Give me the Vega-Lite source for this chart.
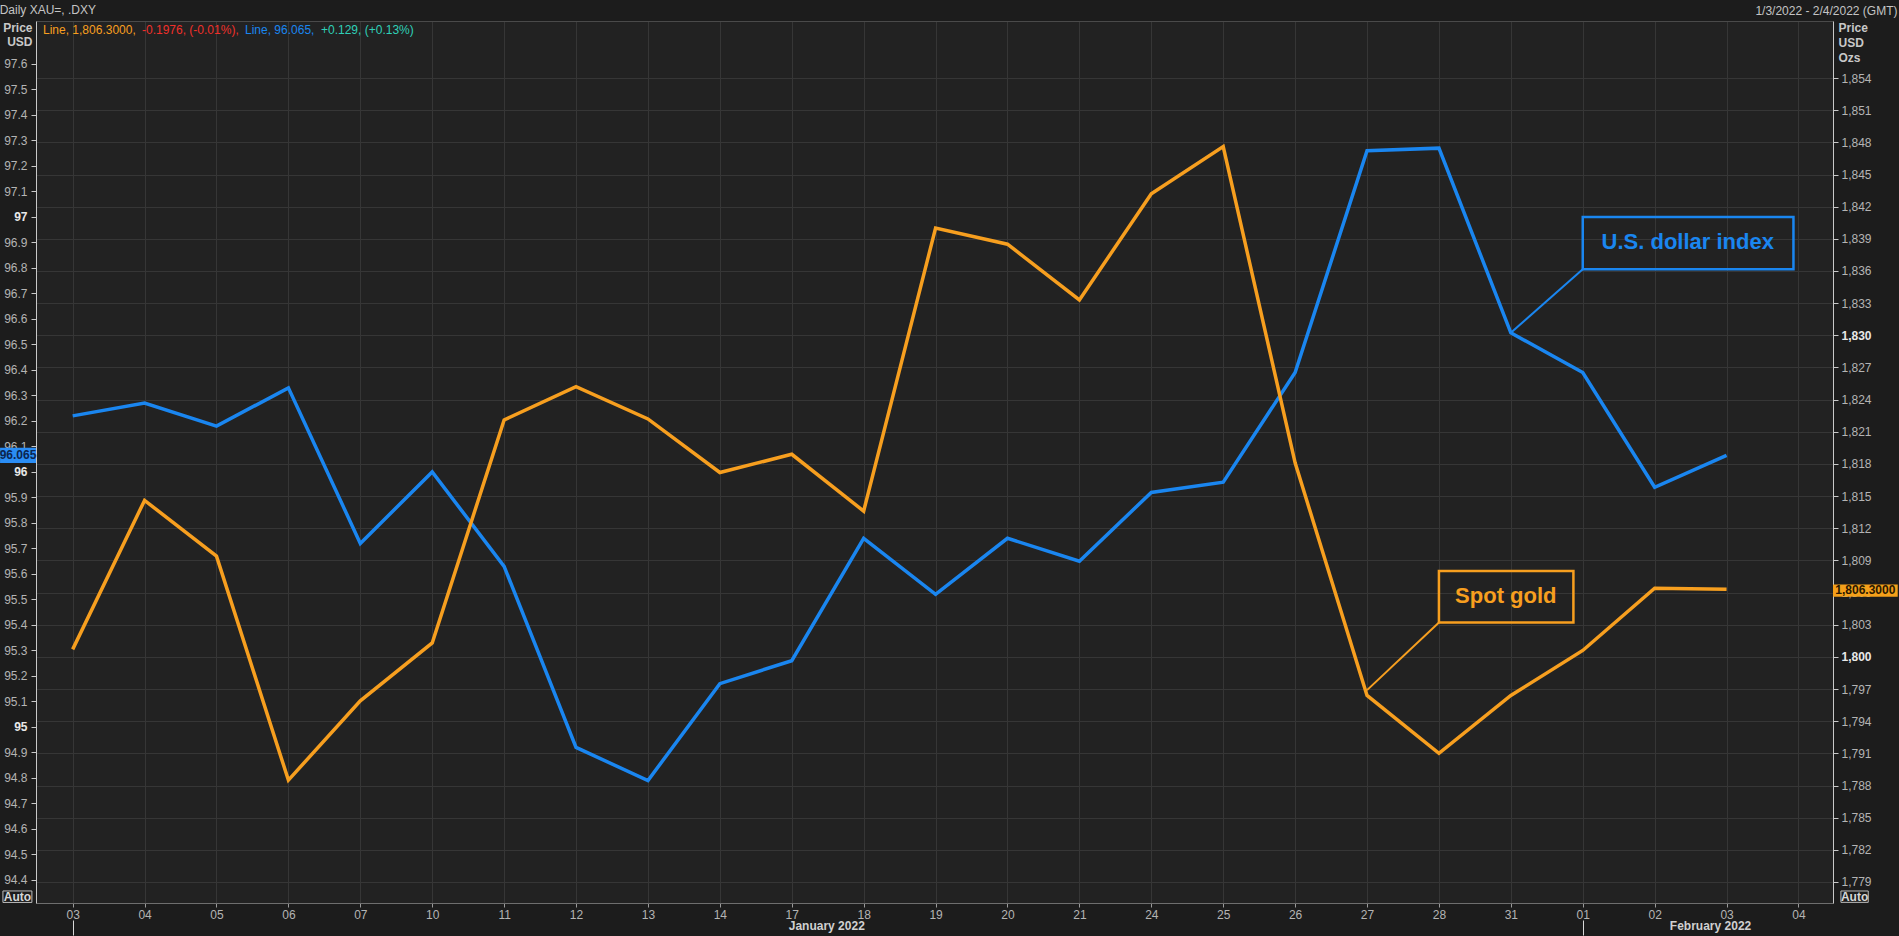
{
  "$schema": "https://vega.github.io/schema/vega-lite/v6.json",
  "width": 1797,
  "height": 882,
  "autosize": {"type": "none"},
  "padding": {"left": 36, "top": 21, "right": 66, "bottom": 33},
  "background": "#1c1c1c",
  "title": {
    "text": "Daily XAU=, .DXY",
    "anchor": "start",
    "frame": "bounds",
    "fontSize": 12,
    "fontWeight": "normal",
    "color": "#c4c4c4",
    "offset": -13
  },
  "config": {
    "font": "Liberation Sans",
    "view": {"stroke": null, "fill": "#222222"}
  },
  "datasets": {
    "prices": [
      {"i": 0, "date": "2022-01-03", "dxy": 96.22, "gold": 1800.7},
      {"i": 1, "date": "2022-01-04", "dxy": 96.27, "gold": 1814.6},
      {"i": 2, "date": "2022-01-05", "dxy": 96.18, "gold": 1809.4},
      {"i": 3, "date": "2022-01-06", "dxy": 96.33, "gold": 1788.5},
      {"i": 4, "date": "2022-01-07", "dxy": 95.72, "gold": 1795.9},
      {"i": 5, "date": "2022-01-10", "dxy": 96.0, "gold": 1801.3},
      {"i": 6, "date": "2022-01-11", "dxy": 95.63, "gold": 1822.1},
      {"i": 7, "date": "2022-01-12", "dxy": 94.92, "gold": 1825.2},
      {"i": 8, "date": "2022-01-13", "dxy": 94.79, "gold": 1822.2},
      {"i": 9, "date": "2022-01-14", "dxy": 95.17, "gold": 1817.2},
      {"i": 10, "date": "2022-01-17", "dxy": 95.26, "gold": 1818.9},
      {"i": 11, "date": "2022-01-18", "dxy": 95.74, "gold": 1813.6},
      {"i": 12, "date": "2022-01-19", "dxy": 95.52, "gold": 1840.0},
      {"i": 13, "date": "2022-01-20", "dxy": 95.74, "gold": 1838.5},
      {"i": 14, "date": "2022-01-21", "dxy": 95.65, "gold": 1833.3},
      {"i": 15, "date": "2022-01-24", "dxy": 95.92, "gold": 1843.2},
      {"i": 16, "date": "2022-01-25", "dxy": 95.96, "gold": 1847.6},
      {"i": 17, "date": "2022-01-26", "dxy": 96.39, "gold": 1818.1},
      {"i": 18, "date": "2022-01-27", "dxy": 97.26, "gold": 1796.4},
      {"i": 19, "date": "2022-01-28", "dxy": 97.27, "gold": 1791.0},
      {"i": 20, "date": "2022-01-31", "dxy": 96.546, "gold": 1796.4},
      {"i": 21, "date": "2022-02-01", "dxy": 96.39, "gold": 1800.6},
      {"i": 22, "date": "2022-02-02", "dxy": 95.94, "gold": 1806.4},
      {"i": 23, "date": "2022-02-03", "dxy": 96.065, "gold": 1806.3}
    ],
    "dxyNotes": [
      {"kind": "box", "i": 21, "i2": 23.93, "v": 97.0, "v2": 96.795},
      {"kind": "leader", "i": 20, "i2": 21, "v": 96.546, "v2": 96.795},
      {"kind": "label", "i": 22.46, "v": 96.875, "text": "U.S. dollar index"},
      {"kind": "tag", "i": -1.01, "i2": -0.51, "v": 96.095, "v2": 96.035},
      {"kind": "tagText", "i": -0.76, "v": 96.065, "text": "96.065"},
      {"kind": "auto", "i": -0.97, "i2": -0.567, "v": 94.357, "v2": 94.312},
      {"kind": "autoText", "i": -0.768, "v": 94.334, "text": "Auto"}
    ],
    "goldNotes": [
      {"kind": "box", "i": 19, "i2": 20.87, "v": 1808.0, "v2": 1803.2},
      {"kind": "leader", "i": 18, "i2": 19, "v": 1796.9, "v2": 1803.2},
      {"kind": "label", "i": 19.93, "v": 1805.0, "text": "Spot gold"},
      {"kind": "tag", "i": 24.48, "i2": 25.38, "v": 1806.75, "v2": 1805.6},
      {"kind": "tagText", "i": 24.93, "v": 1806.2, "text": "1,806.3000"},
      {"kind": "auto", "i": 24.59, "i2": 24.97, "v": 1778.16, "v2": 1777.1},
      {"kind": "autoText", "i": 24.78, "v": 1777.63, "text": "Auto"}
    ]
  },
  "resolve": {"scale": {"y": "independent"}, "axis": {"x": "independent"}},
  "layer": [
    {
      "layer": [
        {
          "data": {"name": "prices"},
          "mark": {"type": "line", "strokeWidth": 3.5},
          "encoding": {
            "x": {
              "field": "i", "type": "quantitative",
              "scale": {"domain": [-0.51, 24.48], "nice": false, "zero": false},
              "axis": {
                "orient": "bottom",
                "values": [0,1,2,3,4,5,6,7,8,9,10,11,12,13,14,15,16,17,18,19,20,21,22,23,24],
                "tickCount": 100,
                "labelExpr": "['03','04','05','06','07','10','11','12','13','14','17','18','19','20','21','24','25','26','27','28','31','01','02','03','04'][datum.value]",
                "title": null,
                "grid": true, "gridColor": "#363636", "gridWidth": 1,
                "domainColor": "#6e6e6e",
                "tickColor": "#9a9a9a", "tickSize": 4,
                "labelPadding": 2, "labelBaseline": "top",
                "labelColor": "#b4b4b4", "labelFontSize": 12,
                "labelOverlap": false, "labelFlush": false
              }
            },
            "y": {
              "field": "dxy", "type": "quantitative",
              "scale": {"domain": [94.3098, 97.7686], "nice": false, "zero": false},
              "axis": {
                "orient": "left",
                "values": [94.4,94.5,94.6,94.7,94.8,94.9,95,95.1,95.2,95.3,95.4,95.5,95.6,95.7,95.8,95.9,96,96.1,96.2,96.3,96.4,96.5,96.6,96.7,96.8,96.9,97,97.1,97.2,97.3,97.4,97.5,97.6],
                "tickCount": 100,
                "labelExpr": "datum.value % 1 == 0 ? format(datum.value, 'd') : format(datum.value, '.1f')",
                "grid": false,
                "domainColor": "#c8c8c8",
                "tickColor": "#c8c8c8", "tickSize": 5,
                "labelPadding": 4, "labelFontSize": 12,
                "labelColor": {"condition": {"test": "datum.value % 1 == 0", "value": "#e8e8e8"}, "value": "#b4b4b4"},
                "labelFontWeight": {"condition": {"test": "datum.value % 1 == 0", "value": "bold"}, "value": "normal"},
                "labelOverlap": false,
                "title": ["Price", "USD"],
                "titleAngle": 0, "titleAlign": "right", "titleBaseline": "alphabetic",
                "titleX": -4, "titleY": 10,
                "titleFontSize": 12, "titleFontWeight": "bold", "titleColor": "#c8c8c8",
                "titleLineHeight": 14
              }
            },
            "color": {
              "datum": "Line, 96.065,",
              "scale": {
                "domain": ["Line, 1,806.3000,", "-0.1976, (-0.01%),", "Line, 96.065,", "+0.129, (+0.13%)"],
                "range": ["#f79f1f", "#f0302a", "#1a86f0", "#2fd0b8"]
              },
              "legend": {
                "orient": "top-left", "direction": "horizontal", "columns": 4,
                "title": null, "offset": 3, "padding": 0,
                "symbolSize": 1, "symbolOpacity": 0, "symbolStrokeWidth": 0,
                "labelOffset": -8, "columnPadding": 2,
                "labelFontSize": 12, "labelLimit": 400,
                "encode": {"labels": {"update": {"fill": {"scale": "color", "field": "value"}}}}
              }
            }
          }
        },
        {
          "data": {"name": "dxyNotes"},
          "transform": [{"filter": "datum.kind == 'box'"}],
          "mark": {"type": "rect", "fillOpacity": 0, "stroke": "#1a86f0", "strokeWidth": 2.5},
          "encoding": {
            "x": {"field": "i", "type": "quantitative"},
            "x2": {"field": "i2"},
            "y": {"field": "v", "type": "quantitative"},
            "y2": {"field": "v2"}
          }
        },
        {
          "data": {"name": "dxyNotes"},
          "transform": [{"filter": "datum.kind == 'leader'"}],
          "mark": {"type": "rule", "stroke": "#1a86f0", "strokeWidth": 2},
          "encoding": {
            "x": {"field": "i", "type": "quantitative"},
            "x2": {"field": "i2"},
            "y": {"field": "v", "type": "quantitative"},
            "y2": {"field": "v2"}
          }
        },
        {
          "data": {"name": "dxyNotes"},
          "transform": [{"filter": "datum.kind == 'label'"}],
          "mark": {"type": "text", "fontSize": 22, "fontWeight": "bold", "color": "#1a86f0", "align": "center", "baseline": "alphabetic"},
          "encoding": {
            "x": {"field": "i", "type": "quantitative"},
            "y": {"field": "v", "type": "quantitative"},
            "text": {"field": "text"}
          }
        },
        {
          "data": {"name": "dxyNotes"},
          "transform": [{"filter": "datum.kind == 'tag'"}],
          "mark": {"type": "rect", "fill": "#2a8df5", "clip": false},
          "encoding": {
            "x": {"field": "i", "type": "quantitative"},
            "x2": {"field": "i2"},
            "y": {"field": "v", "type": "quantitative"},
            "y2": {"field": "v2"}
          }
        },
        {
          "data": {"name": "dxyNotes"},
          "transform": [{"filter": "datum.kind == 'tagText'"}],
          "mark": {"type": "text", "fontSize": 12, "fontWeight": "bold", "color": "#0b2550", "align": "center", "baseline": "middle"},
          "encoding": {
            "x": {"field": "i", "type": "quantitative"},
            "y": {"field": "v", "type": "quantitative"},
            "text": {"field": "text"}
          }
        },
        {
          "data": {"name": "dxyNotes"},
          "transform": [{"filter": "datum.kind == 'autoText'"}],
          "mark": {"type": "text", "fontSize": 12, "fontWeight": "bold", "color": "#d6d6d6", "align": "center", "baseline": "middle"},
          "encoding": {
            "x": {"field": "i", "type": "quantitative"},
            "y": {"field": "v", "type": "quantitative"},
            "text": {"field": "text"}
          }
        }
      ]
    },
    {
      "layer": [
        {
          "data": {"name": "prices"},
          "mark": {"type": "line", "strokeWidth": 3.5},
          "encoding": {
            "x": {
              "field": "i", "type": "quantitative",
              "scale": {"domain": [-0.51, 24.48], "nice": false, "zero": false},
              "axis": {
                "orient": "bottom",
                "offset": 17,
                "values": [0, 10.48, 21, 22.77],
                "tickCount": 100,
                "labelExpr": "datum.value == 10.48 ? 'January 2022' : datum.value == 22.77 ? 'February 2022' : ''",
                "title": null, "grid": false, "domain": false,
                "tickSize": 15,
                "tickColor": {"condition": {"test": "datum.value == 0 || datum.value == 21", "value": "#d8d8d8"}, "value": "rgba(0,0,0,0)"},
                "labelPadding": -15, "labelBaseline": "top",
                "labelColor": "#d0d0d0", "labelFontSize": 12, "labelFontWeight": "bold",
                "labelOverlap": false, "labelFlush": false
              }
            },
            "y": {
              "field": "gold", "type": "quantitative",
              "scale": {"domain": [1777.04, 1859.32], "nice": false, "zero": false},
              "axis": {
                "orient": "right",
                "values": [1779,1782,1785,1788,1791,1794,1797,1800,1803,1806,1809,1812,1815,1818,1821,1824,1827,1830,1833,1836,1839,1842,1845,1848,1851,1854],
                "tickCount": 100,
                "format": ",",
                "grid": true, "gridColor": "#363636", "gridWidth": 1,
                "domainColor": "#c8c8c8",
                "tickColor": "#c8c8c8", "tickSize": 5,
                "labelPadding": 3, "labelFontSize": 12,
                "labelColor": {"condition": {"test": "datum.value % 30 == 0", "value": "#e8e8e8"}, "value": "#b4b4b4"},
                "labelFontWeight": {"condition": {"test": "datum.value % 30 == 0", "value": "bold"}, "value": "normal"},
                "labelOverlap": false,
                "title": ["Price", "USD", "Ozs"],
                "titleAngle": 0, "titleAlign": "left", "titleBaseline": "alphabetic",
                "titleX": 5, "titleY": 10,
                "titleFontSize": 12, "titleFontWeight": "bold", "titleColor": "#c8c8c8",
                "titleLineHeight": 15
              }
            },
            "color": {
              "datum": "Line, 1,806.3000,",
              "scale": {
                "domain": ["Line, 1,806.3000,", "-0.1976, (-0.01%),", "Line, 96.065,", "+0.129, (+0.13%)"],
                "range": ["#f79f1f", "#f0302a", "#1a86f0", "#2fd0b8"]
              },
              "legend": {
                "orient": "top-left", "direction": "horizontal", "columns": 4,
                "title": null, "offset": 3, "padding": 0,
                "symbolSize": 1, "symbolOpacity": 0, "symbolStrokeWidth": 0,
                "labelOffset": -8, "columnPadding": 2,
                "labelFontSize": 12, "labelLimit": 400,
                "encode": {"labels": {"update": {"fill": {"scale": "color", "field": "value"}}}}
              }
            }
          }
        },
        {
          "data": {"name": "goldNotes"},
          "transform": [{"filter": "datum.kind == 'box'"}],
          "mark": {"type": "rect", "fillOpacity": 0, "stroke": "#f79f1f", "strokeWidth": 2.5},
          "encoding": {
            "x": {"field": "i", "type": "quantitative"},
            "x2": {"field": "i2"},
            "y": {"field": "v", "type": "quantitative"},
            "y2": {"field": "v2"}
          }
        },
        {
          "data": {"name": "goldNotes"},
          "transform": [{"filter": "datum.kind == 'leader'"}],
          "mark": {"type": "rule", "stroke": "#f79f1f", "strokeWidth": 2},
          "encoding": {
            "x": {"field": "i", "type": "quantitative"},
            "x2": {"field": "i2"},
            "y": {"field": "v", "type": "quantitative"},
            "y2": {"field": "v2"}
          }
        },
        {
          "data": {"name": "goldNotes"},
          "transform": [{"filter": "datum.kind == 'label'"}],
          "mark": {"type": "text", "fontSize": 22, "fontWeight": "bold", "color": "#f79f1f", "align": "center", "baseline": "alphabetic"},
          "encoding": {
            "x": {"field": "i", "type": "quantitative"},
            "y": {"field": "v", "type": "quantitative"},
            "text": {"field": "text"}
          }
        },
        {
          "data": {"name": "goldNotes"},
          "transform": [{"filter": "datum.kind == 'tag'"}],
          "mark": {"type": "rect", "fill": "#f5a01a", "clip": false},
          "encoding": {
            "x": {"field": "i", "type": "quantitative"},
            "x2": {"field": "i2"},
            "y": {"field": "v", "type": "quantitative"},
            "y2": {"field": "v2"}
          }
        },
        {
          "data": {"name": "goldNotes"},
          "transform": [{"filter": "datum.kind == 'tagText'"}],
          "mark": {"type": "text", "fontSize": 12, "fontWeight": "bold", "color": "#2a1800", "align": "center", "baseline": "middle"},
          "encoding": {
            "x": {"field": "i", "type": "quantitative"},
            "y": {"field": "v", "type": "quantitative"},
            "text": {"field": "text"}
          }
        },
        {
          "data": {"name": "goldNotes"},
          "transform": [{"filter": "datum.kind == 'auto'"}],
          "mark": {"type": "rect", "fillOpacity": 0, "stroke": "#bdbdbd", "strokeWidth": 1},
          "encoding": {
            "x": {"field": "i", "type": "quantitative"},
            "x2": {"field": "i2"},
            "y": {"field": "v", "type": "quantitative"},
            "y2": {"field": "v2"}
          }
        },
        {
          "data": {"name": "goldNotes"},
          "transform": [{"filter": "datum.kind == 'autoText'"}],
          "mark": {"type": "text", "fontSize": 12, "fontWeight": "bold", "color": "#d6d6d6", "align": "center", "baseline": "middle"},
          "encoding": {
            "x": {"field": "i", "type": "quantitative"},
            "y": {"field": "v", "type": "quantitative"},
            "text": {"field": "text"}
          }
        }
      ]
    },
    {
      "data": {"name": "dxyNotes"},
      "transform": [{"filter": "datum.kind == 'auto'"}],
      "mark": {"type": "rect", "fillOpacity": 0, "stroke": "#bdbdbd", "strokeWidth": 1},
      "encoding": {
        "x": {
          "field": "i", "type": "quantitative",
          "axis": {
            "orient": "top",
            "title": "1/3/2022 - 2/4/2022 (GMT)",
            "titleAnchor": "end", "titleAlign": "right", "titleBaseline": "alphabetic",
            "titleX": 1861, "titleY": -7,
            "titleFontSize": 12, "titleFontWeight": "normal", "titleColor": "#c4c4c4",
            "labels": false, "ticks": false, "grid": false,
            "domain": true, "domainColor": "#4a4a4a"
          }
        },
        "x2": {"field": "i2"},
        "y": {
          "field": "v", "type": "quantitative",
          "scale": {"domain": [94.3098, 97.7686], "nice": false, "zero": false},
          "axis": null
        },
        "y2": {"field": "v2"}
      }
    }
  ]
}
